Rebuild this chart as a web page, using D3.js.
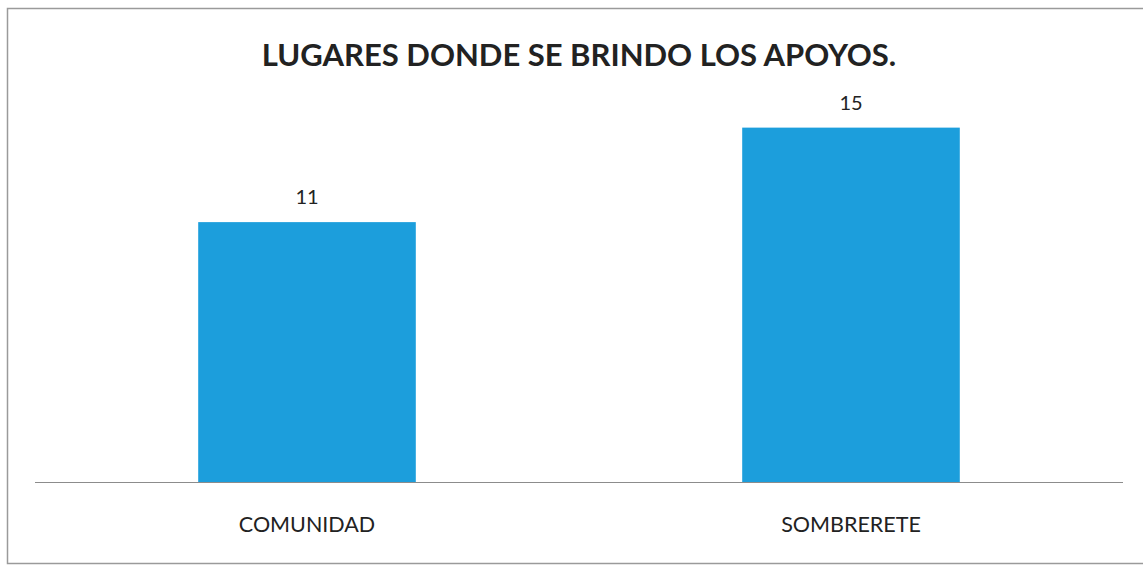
<!DOCTYPE html>
<html>
<head>
<meta charset="UTF-8">
<title>Lugares donde se brindo los apoyos</title>
<script src="https://cdn.jsdelivr.net/npm/d3@7"></script>
<style>
  body { margin: 0; background: #fff; }
  svg text { font-family: Lato, "Open Sans", sans-serif; fill: #222; }
  .title { font-weight: 700; font-size: 31px; }
  .cat { font-size: 21.5px; }
  .val { font-size: 20px; }
</style>
</head>
<body>
<svg id="chart"></svg>
<script>
// datos
var lugares = ["COMUNIDAD", "SOMBRERETE"];
var apoyos = [11, 15];
var titulo = "LUGARES DONDE SE BRINDO LOS APOYOS.";

var width = 1143, height = 565;

var svg = d3.select("#chart")
  .attr("width", width)
  .attr("height", height);

// marco del grafico
svg.append("rect")
  .attr("x", 7.5).attr("y", 8.5)
  .attr("width", 1150).attr("height", 555)
  .attr("fill", "none")
  .attr("stroke", "#9a9a9a")
  .attr("stroke-width", 1.5);

var x = d3.scaleBand()
  .domain(lugares)
  .range([35, 1123])
  .paddingInner(0.6)
  .paddingOuter(0.3);

var y = d3.scaleLinear()
  .domain([0, 16])
  .range([482, 104]);

// barras
svg.selectAll(".bar")
  .data(apoyos)
  .enter().append("rect")
  .attr("class", "bar")
  .attr("x", function(d, i) { return x(lugares[i]); })
  .attr("y", function(d) { return y(d); })
  .attr("width", x.bandwidth())
  .attr("height", function(d) { return y(0) - y(d); })
  .attr("fill", "#1c9edc");

// linea del eje
svg.append("line")
  .attr("x1", 35).attr("x2", 1123)
  .attr("y1", y(0) + 0.5).attr("y2", y(0) + 0.5)
  .attr("stroke", "#8c8c8c")
  .attr("stroke-width", 1);

// etiquetas de valor
svg.selectAll(".val")
  .data(apoyos)
  .enter().append("text")
  .attr("class", "val")
  .attr("x", function(d, i) { return x(lugares[i]) + x.bandwidth() / 2; })
  .attr("y", function(d) { return y(d) - 18; })
  .attr("text-anchor", "middle")
  .text(function(d) { return d; });

// categorias
svg.selectAll(".cat")
  .data(lugares)
  .enter().append("text")
  .attr("class", "cat")
  .attr("x", function(d) { return x(d) + x.bandwidth() / 2; })
  .attr("y", 532)
  .attr("text-anchor", "middle")
  .text(function(d) { return d; });

svg.append("text")
  .attr("class", "title")
  .attr("x", 579)
  .attr("y", 66)
  .attr("text-anchor", "middle")
  .text(titulo);
</script>
</body>
</html>
